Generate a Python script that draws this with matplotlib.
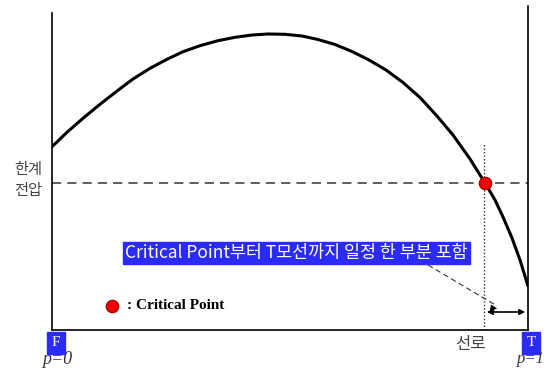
import matplotlib
matplotlib.use("Agg")
import matplotlib.pyplot as plt

# P-V style curve (x: F=0 .. T=1, y: voltage, arbitrary units)
pos = [0.0, 0.0315, 0.0651, 0.1008, 0.1366, 0.1702, 0.2059, 0.2416,
       0.2752, 0.3109, 0.3487, 0.3845, 0.4202, 0.4538, 0.4895, 0.5252,
       0.5588, 0.5945, 0.6303, 0.6660, 0.7017, 0.7374, 0.7731, 0.8088,
       0.8424, 0.8782, 0.9097, 0.9307, 0.9475, 0.9664, 0.9832, 1.0]
volt = [1.833, 1.977, 2.117, 2.257, 2.39, 2.51, 2.617, 2.707,
        2.783, 2.843, 2.893, 2.927, 2.95, 2.96, 2.957, 2.94,
        2.905, 2.855, 2.785, 2.70, 2.60, 2.475, 2.325, 2.14,
        1.95, 1.71, 1.47, 1.30, 1.13, 0.92, 0.70, 0.44]

limit_v = 1.47          # 한계 전압
crit_x = 0.9097         # critical point position
line_x = 0.908          # 선로 marker (dotted)

KR = ["Noto Sans CJK KR", "DejaVu Sans"]
SERIF = ["Liberation Serif", "DejaVu Serif"]
BLUE = "#2b2bf5"

fig = plt.figure(figsize=(5.44, 3.70), dpi=100)
ax = fig.add_axes([52 / 544, 40 / 370, 476 / 544, 330 / 370])
ax.set_xlim(0, 1)
ax.set_ylim(0, 3.3)
ax.set_xticks([])
ax.set_yticks([])
ax.spines["top"].set_visible(False)
ax.spines["left"].set_bounds(0, 3.17)
ax.spines["right"].set_bounds(0, 3.24)
for s in ("left", "right", "bottom"):
    ax.spines[s].set_linewidth(1.2)

ax.plot(pos, volt, color="black", lw=2.2, solid_capstyle="round",
        solid_joinstyle="round", zorder=3)
ax.axhline(limit_v, color="#333333", ls=(0, (6, 4)), lw=1.1, zorder=2)
ax.plot([line_x, line_x], [0, 1.87], color="#333333", ls=(0, (1, 1.5)), lw=1.0)
ax.plot([crit_x], [limit_v], "o", ms=9, mfc="#ee0000", mec="#990000", mew=0.8, zorder=4)

# legend-ish marker
ax.plot([0.126], [0.24], "o", ms=9, mfc="#ee0000", mec="#990000", mew=0.8)
ax.text(0.158, 0.245, ": Critical Point", family=SERIF, fontweight="bold",
        fontsize=11, va="center", ha="left")

# blue callout
ax.text(0.5137, 0.77, "Critical Point부터 T모선까지 일정 한 부분 포함", family=KR,
        color="white", fontsize=12.5, ha="center", va="center",
        bbox=dict(boxstyle="square,pad=0.12", fc=BLUE, ec=BLUE))
ax.plot([0.790, 0.935], [0.65, 0.24], color="#333333", ls=(0, (5, 3)), lw=0.8)
ax.annotate("", xy=(0.941, 0.21), xytext=(0.925, 0.22),
            arrowprops=dict(arrowstyle="-|>", color="black", lw=0.8, mutation_scale=9))
ax.annotate("", xy=(line_x, 0.18), xytext=(1.0, 0.18),
            arrowprops=dict(arrowstyle="<|-|>", color="black", lw=1.2, mutation_scale=8))

# labels
ax.text(-0.021, 1.50, "한계\n전압", family=KR, fontsize=11, color="#444444",
        ha="right", va="center", linespacing=1.35)
ax.text(0.0084, -0.13, "F", family=SERIF, fontsize=11, color="white", ha="center", va="center",
        bbox=dict(boxstyle="square,pad=0.28", fc=BLUE, ec=BLUE))
ax.text(0.0116, -0.29, "p=0", family=SERIF, style="italic", fontsize=13, color="#333333",
        ha="center", va="center")
ax.text(1.007, -0.13, "T", family=SERIF, fontsize=11, color="white", ha="center", va="center",
        bbox=dict(boxstyle="square,pad=0.28", fc=BLUE, ec=BLUE))
ax.text(0.976, -0.29, "p=1", family=SERIF, style="italic", fontsize=12, color="#333333",
        ha="left", va="center")
ax.text(0.880, -0.14, "선로", family=KR, fontsize=12, color="#444444", ha="center", va="center")

fig.savefig("out.png", dpi=100)
